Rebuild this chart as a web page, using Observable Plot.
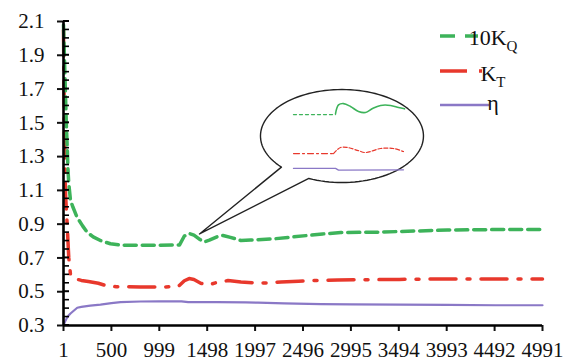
<!DOCTYPE html>
<html><head><meta charset="utf-8">
<script src="https://cdn.jsdelivr.net/npm/d3@7"></script>
<script src="https://cdn.jsdelivr.net/npm/@observablehq/plot@0.6"></script>
<style>html,body{margin:0;padding:0;background:#fff;}</style>
</head><body><div id="chart"></div>
<script>
// ---- tick values / labels ----
const xTicks = [1, 500, 999, 1498, 1997, 2496, 2995, 3494, 3993, 4492, 4991];
const yTicks = [0.3, 0.5, 0.7, 0.9, 1.1, 1.3, 1.5, 1.7, 1.9, 2.1];
const yMinorTicks = [0.35, 0.4, 0.45, 0.55, 0.6, 0.65, 0.75, 0.8, 0.85, 0.95, 1.0, 1.05,
  1.15, 1.2, 1.25, 1.35, 1.4, 1.45, 1.55, 1.6, 1.65, 1.75, 1.8, 1.85, 1.95, 2.0, 2.05];

// ---- series (iteration, value) ----
const kq10 = [[1,2.08],[10,1.9],[20,1.7],[30,1.5],[40,1.35],[48,1.22],[56,1.14],[74,1.04],[100,1.0],
  [143,0.94],[200,0.89],[248,0.852],[310,0.825],[386,0.803],[490,0.784],[600,0.776],[800,0.775],
  [1000,0.775],[1210,0.777],[1260,0.83],[1310,0.845],[1360,0.835],[1420,0.81],[1466,0.795],
  [1520,0.805],[1600,0.825],[1663,0.833],[1740,0.822],[1850,0.803],[1950,0.806],[2190,0.813],
  [2350,0.822],[2540,0.833],[2700,0.842],[2890,0.85],[3300,0.853],[3700,0.86],[4000,0.865],
  [4500,0.868],[4991,0.868]];
const kt = [[1,2.05],[5,1.8],[10,1.5],[16,1.25],[22,1.08],[39,0.9],[56,0.7],[74,0.6],[100,0.58],
  [187,0.567],[260,0.56],[364,0.55],[450,0.535],[550,0.53],[800,0.528],[1000,0.528],[1195,0.53],
  [1260,0.565],[1310,0.578],[1360,0.572],[1430,0.55],[1507,0.54],[1600,0.555],[1715,0.566],
  [1850,0.558],[1985,0.553],[2130,0.552],[2266,0.558],[2450,0.562],[2609,0.566],[2858,0.57],
  [3170,0.571],[3500,0.573],[3857,0.575],[4300,0.575],[4700,0.575],[4991,0.575]];
const eta = [[1,0.30],[15,0.32],[32,0.34],[55,0.36],[74,0.371],[144,0.405],[187,0.41],[280,0.418],
  [386,0.424],[500,0.432],[595,0.438],[803,0.442],[1000,0.443],[1230,0.443],[1300,0.438],
  [1600,0.438],[1900,0.437],[2027,0.435],[2300,0.431],[2682,0.426],[3000,0.425],[3500,0.424],
  [4000,0.422],[4500,0.42],[4991,0.42]];

// ---- callout (speech bubble) annotation, in data units ----
const bubbleCenter = [2902, 1.422];
const bubbleRadii = [849, 0.2753];
const bubbleTip = [1418, 0.842];
const bubbleOpening = [114, 138]; // degrees where the tail joins
const zoomKqDotted = [[2397,1.549],[2835,1.549]];
const zoomKqSolid = [[2835,1.555],[2866,1.606],[2918,1.614],[2991,1.597],[3074,1.567],[3147,1.561],
  [3220,1.585],[3304,1.603],[3408,1.603],[3491,1.591],[3554,1.583]];
const zoomKtDashDot = [[2397,1.318],[2814,1.318]];
const zoomKtCurve = [[2814,1.318],[2887,1.354],[2960,1.354],[3074,1.335],[3147,1.324],
  [3304,1.348],[3439,1.348],[3543,1.330]];
const zoomEta = [[2397,1.230],[2835,1.230],[2866,1.220],[3543,1.222]];

// ---- legend ----
const legendLabels = ["10K", "K", "η"];
const legendSubs = ["Q", "T", ""];
const colors = {kq: "#3db35a", kt: "#e8382c", eta: "#8a78c6"};
const FONT = "'Liberation Serif','Times New Roman',Times,serif";

// bubble outline points
const bubblePts = (() => {
  const pts = [];
  const [a0, a1] = bubbleOpening;
  for (let t = a1; t <= a0 + 360 + 1e-9; t += 3) {
    const r = t * Math.PI / 180;
    pts.push([bubbleCenter[0] + bubbleRadii[0] * Math.cos(r), bubbleCenter[1] - bubbleRadii[1] * Math.sin(r)]);
  }
  const r = (a0 + 360) * Math.PI / 180;
  pts.push([bubbleCenter[0] + bubbleRadii[0] * Math.cos(r), bubbleCenter[1] - bubbleRadii[1] * Math.sin(r)]);
  pts.push(bubbleTip);
  pts.push(pts[0]);
  return pts;
})();

// inward (right-side) ticks on the y axis, placed with Plot's y scale
function innerYTicks(index, scales) {
  const g = d3.create("svg:g").attr("stroke", "#000");
  const x0 = scales.x(1);
  for (const v of yMinorTicks) {
    const y = scales.y(v);
    g.append("line").attr("x1", x0).attr("x2", x0 + 6).attr("y1", y).attr("y2", y).attr("stroke-width", 1.6);
  }
  for (const v of yTicks) {
    const y = scales.y(v);
    g.append("line").attr("x1", x0).attr("x2", x0 + 6).attr("y1", y).attr("y2", y).attr("stroke-width", 2);
  }
  return g.node();
}

function legendMark(index, scales, values, dims) {
  const g = d3.create("svg:g").attr("font-family", FONT).attr("fill", "#111");
  const lineY = [36, 71, 105];
  const baseY = [45, 81, 110];
  g.append("line").attr("x1", 440).attr("x2", 478).attr("y1", lineY[0]).attr("y2", lineY[0])
    .attr("stroke", colors.kq).attr("stroke-width", 3.5).attr("stroke-dasharray", "15,10");
  g.append("line").attr("x1", 440).attr("x2", 482).attr("y1", lineY[1]).attr("y2", lineY[1])
    .attr("stroke", colors.kt).attr("stroke-width", 3.5).attr("stroke-dasharray", "27,12,3,20");
  g.append("line").attr("x1", 440).attr("x2", 489).attr("y1", lineY[2]).attr("y2", lineY[2])
    .attr("stroke", colors.eta).attr("stroke-width", 2.5);
  legendLabels.forEach((lab, i) => {
    const t = g.append("text").attr("x", 493).attr("y", baseY[i]).attr("font-size", 22).text(lab);
    if (legendSubs[i]) {
      t.append("tspan").attr("font-size", 15).attr("dy", 6).text(legendSubs[i]);
    }
  });
  return g.node();
}

const line = (data, opts) => Plot.line(data, {x: d => d[0], y: d => d[1], ...opts});

const chart = Plot.plot({
  width: 571,
  height: 363,
  marginLeft: 63,
  marginRight: 29,
  marginTop: 21,
  marginBottom: 38,
  style: {fontFamily: FONT, background: "#fff", color: "#111"},
  x: {domain: [1, 4991]},
  y: {domain: [0.3, 2.1]},
  marks: [
    line(eta, {stroke: colors.eta, strokeWidth: 2.2}),
    line(kt, {stroke: colors.kt, strokeWidth: 3.5, strokeDasharray: "26,11,3,11"}),
    line(kq10, {stroke: colors.kq, strokeWidth: 3.5, strokeDasharray: "12,6"}),
    // callout
    line(bubblePts, {stroke: "#222", strokeWidth: 1.4, fill: "none"}),
    line(zoomKqDotted, {stroke: colors.kq, strokeWidth: 1.3, strokeDasharray: "3,3"}),
    line(zoomKqSolid, {stroke: colors.kq, strokeWidth: 1.6, curve: "catmull-rom"}),
    line(zoomKtDashDot, {stroke: colors.kt, strokeWidth: 1.2, strokeDasharray: "6,3,2,3"}),
    line(zoomKtCurve, {stroke: colors.kt, strokeWidth: 1.2, strokeDasharray: "4,2", curve: "catmull-rom"}),
    line(zoomEta, {stroke: colors.eta, strokeWidth: 1.3}),
    // axes
    Plot.axisY({ticks: yTicks, tickSize: 6, tickPadding: 13, tickFormat: d3.format(".1f"), fontSize: 21, strokeWidth: 2, label: null}),
    Plot.axisX({ticks: xTicks, tickSize: 6, tickPadding: 11, tickFormat: d => String(d), fontSize: 21, strokeWidth: 2, label: null}),
    innerYTicks,
    Plot.ruleX([1], {stroke: "#000", strokeWidth: 2.6}),
    Plot.ruleY([0.3], {stroke: "#000", strokeWidth: 2.6}),
    legendMark
  ]
});
document.getElementById("chart").append(chart);
</script>
</body></html>
